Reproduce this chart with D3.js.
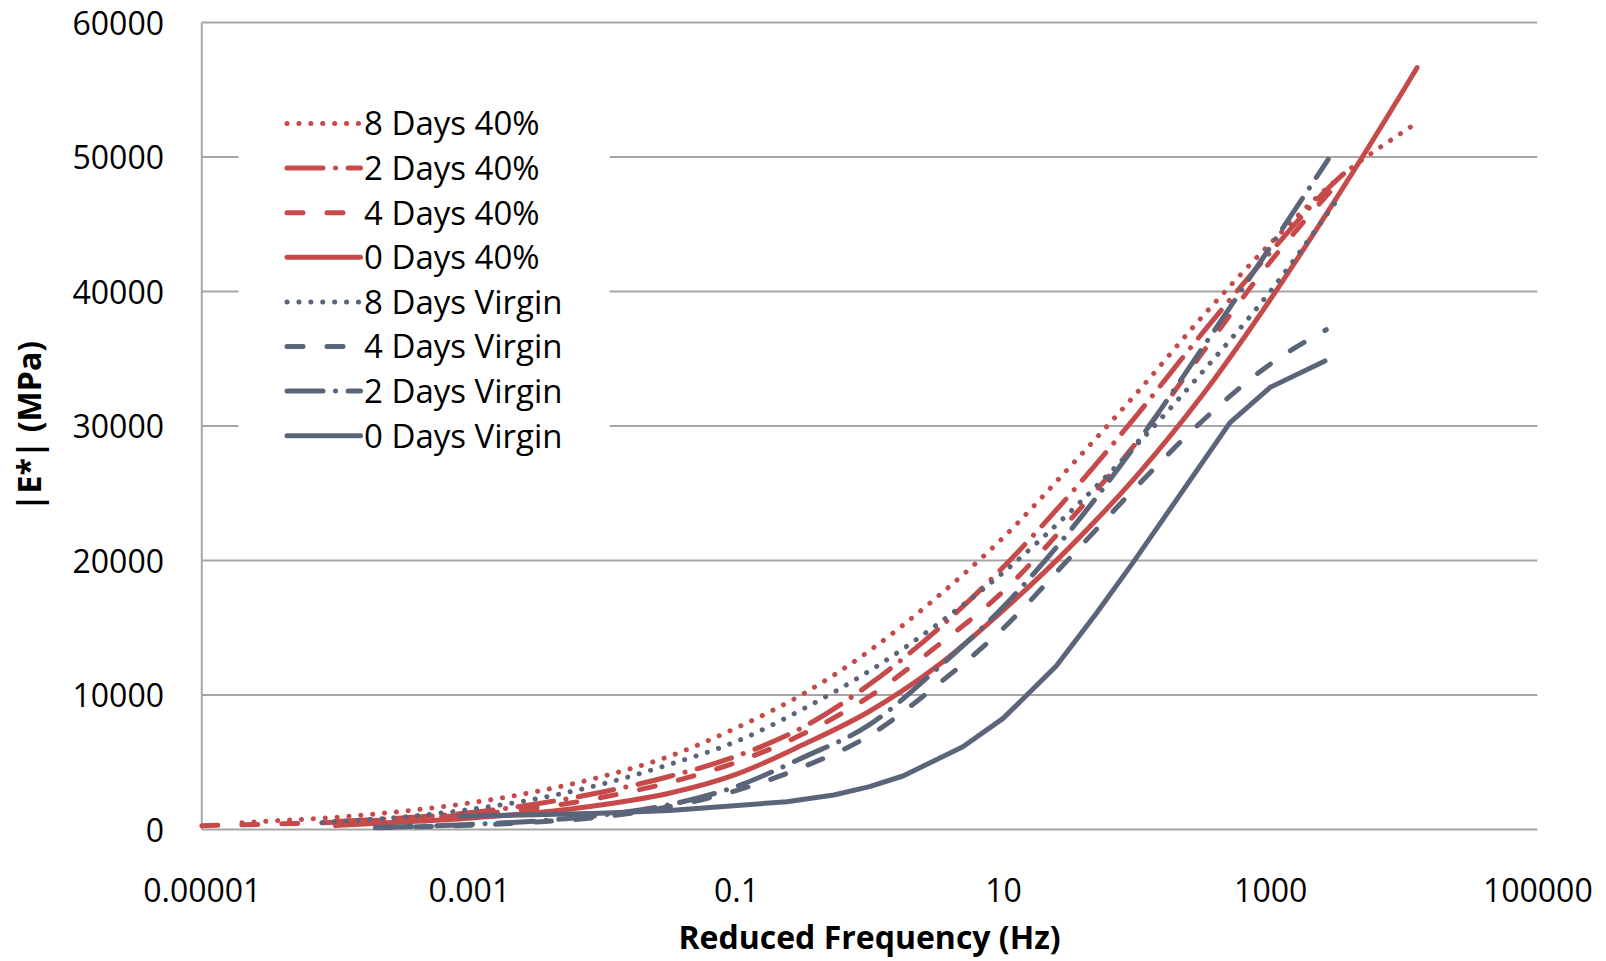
<!DOCTYPE html>
<html>
<head>
<meta charset="utf-8">
<script src="https://cdn.jsdelivr.net/npm/d3@7"></script>
<style>
  html, body { margin: 0; padding: 0; background: #ffffff; }
  svg { display: block; font-family: "Open Sans", "Noto Sans", sans-serif; }
</style>
</head>
<body>
<svg id="chart" width="1606" height="961"></svg>
<script>
// ---- Dynamic modulus master curves: |E*| (MPa) against reduced frequency (Hz) ----

// 8 Days 40%
const freq8d40 = [0.00002, 0.0000316, 0.0001, 0.000316, 0.001, 0.00316, 0.01, 0.0316, 0.1, 0.316, 1, 3.16, 10, 31.6, 100, 316, 1000, 3160, 10000, 11500];
const mod8d40  = [517, 630, 913, 1360, 1970, 2820, 3950, 5450, 7550, 10070, 13300, 17240, 21700, 26960, 32450, 38220, 43560, 48330, 51900, 52300];

// 2 Days 40%
const freq2d40 = [0.0001, 0.000316, 0.001, 0.00316, 0.01, 0.0316, 0.1, 0.316, 1, 3.16, 10, 31.6, 100, 316, 1000, 3160, 3600];
const mod2d40  = [600, 870, 1250, 1900, 2800, 3950, 5450, 7600, 10800, 14800, 19500, 24900, 30800, 37000, 42900, 48300, 48800];

// 4 Days 40%
const freq4d40 = [0.00001, 0.0000316, 0.0001, 0.000316, 0.001, 0.00316, 0.01, 0.0316, 0.1, 0.316, 1, 3.16, 10, 31.6, 100, 316, 1000, 3160];
const mod4d40  = [290, 400, 550, 780, 1100, 1600, 2400, 3500, 5000, 7100, 9900, 13600, 17700, 23000, 28800, 35550, 42200, 48000];

// 0 Days 40%
const freq0d40 = [0.0001, 0.000316, 0.001, 0.00316, 0.01, 0.0316, 0.1, 0.316, 1, 3.16, 10, 31.6, 100, 316, 1000, 3160, 10000, 12600];
const mod0d40  = [300, 560, 850, 1250, 1850, 2700, 4100, 6300, 8800, 12100, 16300, 21000, 26300, 32400, 39400, 47000, 55000, 56650];

// 8 Days Virgin
const freq8dV = [0.00008, 0.0001, 0.000316, 0.001, 0.00316, 0.01, 0.0316, 0.1, 0.316, 1, 3.16, 10, 31.6, 100, 316, 1000, 3160];
const mod8dV  = [517, 590, 930, 1490, 2280, 3390, 4840, 6540, 8950, 11800, 15200, 19100, 23600, 28600, 34100, 40000, 46800];

// 4 Days Virgin
const freq4dV = [0.0002, 0.000316, 0.001, 0.00316, 0.01, 0.0316, 0.1, 0.316, 1, 3.16, 10, 31.6, 100, 316, 1000, 2630];
const mod4dV  = [130, 180, 320, 560, 950, 1700, 2900, 4650, 7000, 10700, 14950, 20200, 25500, 30450, 34600, 37160];

// 2 Days Virgin
const freq2dV = [0.0002, 0.000316, 0.001, 0.00316, 0.01, 0.0316, 0.1, 0.316, 1, 3.16, 10, 31.6, 100, 316, 1000, 2720];
const mod2dV  = [150, 210, 380, 640, 1080, 1850, 3200, 5350, 7800, 11900, 16550, 22200, 28700, 35900, 43300, 49830];

// 0 Days Virgin (measured points, joined by straight segments)
const freq0dV = [0.00085, 0.00316, 0.0095, 0.0316, 0.054, 0.24, 0.54, 1, 1.78, 5, 10, 25, 50, 95, 500, 1000, 2570];
const mod0dV  = [1010, 1100, 1210, 1420, 1580, 2075, 2570, 3190, 3985, 6160, 8270, 12160, 16080, 19920, 30250, 32880, 34840];

// Axis ticks
const xTickValues = [0.00001, 0.001, 0.1, 10, 1000, 100000];
const xTickLabels = ["0.00001", "0.001", "0.1", "10", "1000", "100000"];
const yTickValues = [0, 10000, 20000, 30000, 40000, 50000, 60000];
const yTickLabels = ["0", "10000", "20000", "30000", "40000", "50000", "60000"];

const seriesNames = ["8 Days 40%", "2 Days 40%", "4 Days 40%", "0 Days 40%",
                     "8 Days Virgin", "4 Days Virgin", "2 Days Virgin", "0 Days Virgin"];

// ---- Styling ----
const RED = "#C64A4A";
const SLATE = "#5B657A";
const GRID = "#A6A6A6";
const LINE_W = 5;
const DASH = {
  dot: "0.1 11.8",
  dash: "16 24",
  longDashDot: "36 12.5 0.1 12.5",
  solid: null
};

const series = [
  { name: seriesNames[0], freq: freq8d40, mod: mod8d40, color: RED,   dash: DASH.dot,         smooth: true },
  { name: seriesNames[1], freq: freq2d40, mod: mod2d40, color: RED,   dash: DASH.longDashDot, smooth: true },
  { name: seriesNames[2], freq: freq4d40, mod: mod4d40, color: RED,   dash: DASH.dash,        smooth: true },
  { name: seriesNames[3], freq: freq0d40, mod: mod0d40, color: RED,   dash: DASH.solid,       smooth: true },
  { name: seriesNames[4], freq: freq8dV,  mod: mod8dV,  color: SLATE, dash: DASH.dot,         smooth: true },
  { name: seriesNames[5], freq: freq4dV,  mod: mod4dV,  color: SLATE, dash: DASH.dash,        smooth: true },
  { name: seriesNames[6], freq: freq2dV,  mod: mod2dV,  color: SLATE, dash: DASH.longDashDot, smooth: true },
  { name: seriesNames[7], freq: freq0dV,  mod: mod0dV,  color: SLATE, dash: DASH.solid,       smooth: false }
];

// ---- Layout ----
const plot = { left: 201.8, right: 1537.3, top: 22.5, bottom: 829.6 };

const x = d3.scaleLog().domain([1e-5, 1e5]).range([plot.left, plot.right]);
const y = d3.scaleLinear().domain([0, 60000]).range([plot.bottom, plot.top]);

const svg = d3.select("#chart");

// Horizontal gridlines
svg.append("g")
  .attr("class", "grid")
  .selectAll("line")
  .data(yTickValues)
  .join("line")
  .attr("x1", plot.left)
  .attr("x2", plot.right)
  .attr("y1", d => y(d))
  .attr("y2", d => y(d))
  .attr("stroke", GRID)
  .attr("stroke-width", 2);

// Vertical value axis line
svg.append("line")
  .attr("x1", plot.left).attr("x2", plot.left)
  .attr("y1", plot.top).attr("y2", plot.bottom)
  .attr("stroke", GRID)
  .attr("stroke-width", 2);

// Y axis labels
const yAxis = d3.axisLeft(y)
  .tickValues(yTickValues)
  .tickFormat((d, i) => yTickLabels[i])
  .tickSize(0)
  .tickPadding(plot.left - 164);

const gy = svg.append("g")
  .attr("transform", `translate(${plot.left},0)`)
  .call(yAxis);
gy.select(".domain").remove();
gy.selectAll("text")
  .attr("font-family", "'Open Sans', sans-serif")
  .attr("font-size", 32)
  .attr("fill", "#000")
  .attr("dy", "0.36em");

// X axis labels
const xAxis = d3.axisBottom(x)
  .tickValues(xTickValues)
  .tickFormat((d, i) => xTickLabels[i])
  .tickSize(0);

const gx = svg.append("g")
  .attr("transform", `translate(0,${plot.bottom})`)
  .call(xAxis);
gx.select(".domain").remove();
gx.selectAll("text")
  .attr("font-family", "'Open Sans', sans-serif")
  .attr("font-size", 32)
  .attr("fill", "#000")
  .attr("y", 61)
  .attr("dy", "0.36em");

// Axis titles
svg.append("text")
  .attr("x", (plot.left + plot.right) / 2)
  .attr("y", 937)
  .attr("dy", "0.36em")
  .attr("text-anchor", "middle")
  .attr("font-size", 32)
  .attr("font-weight", "bold")
  .attr("fill", "#000")
  .text("Reduced Frequency (Hz)");

svg.append("text")
  .attr("transform", `translate(29,${(plot.top + plot.bottom) / 2}) rotate(-90)`)
  .attr("dy", "0.36em")
  .attr("text-anchor", "middle")
  .attr("font-size", 32)
  .attr("font-weight", "bold")
  .attr("fill", "#000")
  .text("|E*| (MPa)");

// Legend panel sits over the gridlines
const legend = { x: 238.6, y: 95, w: 371, h: 365, row0: 123.5, rowStep: 44.6,
                 lineX1: 287, lineX2: 360.5, textX: 364 };

svg.append("rect")
  .attr("x", legend.x).attr("y", legend.y)
  .attr("width", legend.w).attr("height", legend.h)
  .attr("fill", "#ffffff");

// Series curves
const lineGen = smooth => d3.line()
  .x(d => x(d[0]))
  .y(d => y(d[1]))
  .curve(smooth ? d3.curveMonotoneX : d3.curveLinear);

svg.append("g")
  .attr("class", "series")
  .selectAll("path")
  .data(series)
  .join("path")
  .attr("d", s => lineGen(s.smooth)(s.freq.map((f, i) => [f, s.mod[i]])))
  .attr("fill", "none")
  .attr("stroke", s => s.color)
  .attr("stroke-width", LINE_W)
  .attr("stroke-linecap", "round")
  .attr("stroke-linejoin", "round")
  .attr("stroke-dasharray", s => s.dash);

// Legend entries
const entries = svg.append("g")
  .attr("class", "legend")
  .selectAll("g")
  .data(series)
  .join("g")
  .attr("transform", (s, i) => `translate(0,${legend.row0 + i * legend.rowStep})`);

entries.append("line")
  .attr("x1", legend.lineX1).attr("x2", legend.lineX2)
  .attr("y1", 0).attr("y2", 0)
  .attr("stroke", s => s.color)
  .attr("stroke-width", LINE_W)
  .attr("stroke-linecap", "round")
  .attr("stroke-dasharray", s => s.dash);

entries.append("text")
  .attr("x", legend.textX)
  .attr("y", 0)
  .attr("dy", "0.36em")
  .attr("font-size", 33)
  .attr("fill", "#000")
  .text(s => s.name);
</script>
</body>
</html>
